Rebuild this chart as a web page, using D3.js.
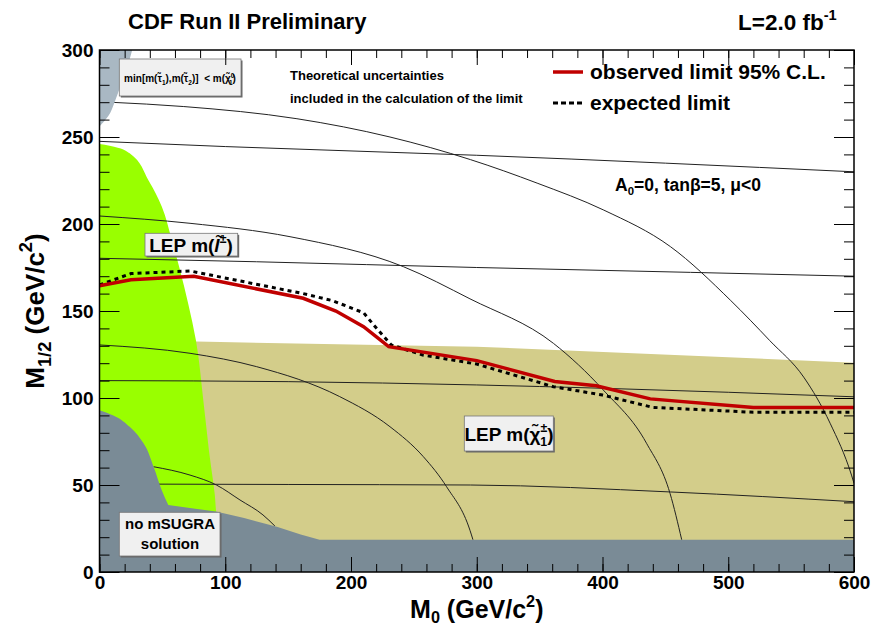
<!DOCTYPE html>
<html>
<head>
<meta charset="utf-8">
<script src="https://cdn.jsdelivr.net/npm/d3@7"></script>
<style>
  body { margin: 0; background: white; }
  text { font-family: "Liberation Sans", Arial, Helvetica, sans-serif; white-space: pre; }
</style>
</head>
<body>
<div id="vis"></div>
<script>
const SVG = d3.select("#vis").append("svg");

const WIDTH = 878;
const HEIGHT = 629;
const margins = [99.5, 24, 50, 57]; // izquierda, derecha, arriba, abajo

SVG.attr("width", WIDTH).attr("height", HEIGHT);

// Ticks
const x_major = [0, 100, 200, 300, 400, 500, 600];
const y_major = [0, 50, 100, 150, 200, 250, 300];
const x_minor = d3.range(0, 601, 20);
const y_minor = d3.range(0, 301, 10);

// Regiones excluidas (M0, M1/2): borde curvo + esquinas
const borde_lep_chargino = [[0, 133], [77, 132.4], [300, 129.5], [600, 120.3]];
const esquinas_lep_chargino = [[600, 0], [0, 0]];
const borde_lep_slepton = [[0, 246], [8, 245], [24, 240.6], [39, 225], [49.5, 210], [57.4, 191],
    [64, 173.6], [70.6, 154], [76.7, 133], [82.5, 99], [87, 70], [92.6, 35.6], [93.5, 0]];
const esquinas_lep_slepton = [[0, 0]];
const borde_stau = [[26, 300], [22, 290], [17, 280], [12, 270], [7, 262], [0, 256]];
const esquinas_stau = [[0, 300]];
const borde_no_msugra = [[0, 93], [11, 90], [24, 83.5], [35, 74], [43, 60.5], [49.5, 47], [54.7, 38.5]];
const esquinas_no_msugra = [[92.6, 34.7], [115, 31], [141, 26], [160, 21.5], [175, 18.5],
    [600, 18.5], [600, 0], [0, 0]];

// Curvas de masa constante
const curva_a = [[8, 270], [67, 267.5], [157, 260.5], [231, 250], [295, 237], [348, 223.5], [401, 208],
    [454, 187], [502, 156], [533, 133], [560, 112], [581, 85.5], [598, 55.7], [600, 51]];
const curva_b = [[0, 247.5], [100, 244.5], [300, 239.5], [600, 230]];
const curva_c = [[0, 204.6], [72, 200.4], [151.5, 192.7], [241.6, 175.5], [294.6, 157], [361, 131.4],
    [400.6, 104.6], [435, 74], [453.7, 45.2], [463, 18.5]];
const curva_d = [[0, 180.3], [125, 178.3], [300, 175], [470, 172.2], [600, 170]];
const curva_e = [[0, 130.5], [72, 125.7], [125, 118], [191, 100.8], [231, 83.5], [257.5, 66.3],
    [276, 49], [294.6, 24], [297, 18.5]];
const curva_f = [[0, 110], [150, 109.4], [300, 107.5], [400, 105.6], [600, 100.7]];
const curva_g = [[43, 60.5], [72, 55.7], [93, 50], [111.7, 41.4], [130, 32.8], [139.5, 26.4]];
const curva_h = [[46, 50.5], [150, 50.3], [295, 50], [454, 46], [600, 40.4]];
const curvas = [curva_a, curva_b, curva_c, curva_d, curva_e, curva_f, curva_g, curva_h];

// Limites
const m0_obs = [0, 25, 75, 162, 188, 210, 230, 300, 362, 395, 438, 520, 600];
const m12_obs = [164.5, 168, 170, 157.3, 150, 141, 129.5, 121.5, 109.5, 107, 99.5, 94.6, 94.6];
const m0_exp = [0, 25, 72, 162, 185, 210, 218, 232, 257, 300, 361, 400, 440, 520, 600];
const m12_exp = [165, 171.5, 173, 160, 156, 149, 142, 130.5, 124.7, 119.5, 106.5, 101.7, 94.6, 91.8, 91.8];

//Escalas
const escala_x = d3.scaleLinear().domain([0, 600]).range([margins[0], WIDTH - margins[1]]);
const escala_y = d3.scaleLinear().domain([0, 300]).range([HEIGHT - margins[3], margins[2]]);

SVG.append("defs").append("clipPath").attr("id", "area")
    .append("rect")
    .attr("x", escala_x(0)).attr("y", escala_y(300))
    .attr("width", escala_x(600) - escala_x(0))
    .attr("height", escala_y(0) - escala_y(300));

const plano = SVG.append("g").attr("clip-path", "url(#area)");

const linea = d3.line().x(d => escala_x(d[0])).y(d => escala_y(d[1]));
const curva = d3.line().x(d => escala_x(d[0])).y(d => escala_y(d[1])).curve(d3.curveMonotoneX);
const curva_vertical = d3.line().x(d => escala_x(d[0])).y(d => escala_y(d[1])).curve(d3.curveMonotoneY);

function region(borde, esquinas, color, suave) {
    const d = (suave ? curva_vertical(borde) : linea(borde)) +
        esquinas.map(p => `L${escala_x(p[0])},${escala_y(p[1])}`).join("") + "Z";
    plano.append("path").attr("d", d).attr("fill", color).attr("stroke", "none");
}

region(borde_lep_chargino, esquinas_lep_chargino, "#d3cd8a", false);
region(borde_lep_slepton, esquinas_lep_slepton, "#99ff00", true);

plano.selectAll(".contorno")
    .data(curvas)
    .join("path")
    .attr("class", "contorno")
    .attr("d", d => curva(d))
    .attr("fill", "none")
    .attr("stroke", "#222")
    .attr("stroke-width", 1);

region(borde_stau, esquinas_stau, "#a9b8c3", true);
region(borde_no_msugra, esquinas_no_msugra, "#7a8b96", true);

const obs = m0_obs.map((m, i) => [m, m12_obs[i]]);
const esp = m0_exp.map((m, i) => [m, m12_exp[i]]);

plano.append("path").attr("d", linea(esp))
    .attr("fill", "none").attr("stroke", "black")
    .attr("stroke-width", 3).attr("stroke-dasharray", "4,4");
plano.append("path").attr("d", linea(obs))
    .attr("fill", "none").attr("stroke", "#c00000")
    .attr("stroke-width", 3.5);

// Texto con subindices y superindices
function escribir(x, y, partes, size, anchor = "start", padre = SVG, escala = 0.65, bajada = 0.25) {
    const t = padre.append("text").attr("x", x).attr("y", y)
        .attr("font-size", size).attr("font-weight", "bold")
        .attr("text-anchor", anchor).attr("fill", "black");
    let shift = 0;
    partes.forEach(p => {
        const s = t.append("tspan").text(p[0]);
        let nuevo = 0;
        if (p[1] === "sub") nuevo = bajada * size;
        if (p[1] === "sup") nuevo = -0.45 * size;
        if (p[1] === "sub" || p[1] === "sup") s.attr("font-size", size * escala);
        if (p[2]) s.attr("dx", p[2]);
        if (p[1] === "it") s.attr("font-style", "italic");
        s.attr("dy", nuevo - shift);
        shift = nuevo;
    });
    return t;
}

function caja(x0, y0, x1, y1) {
    SVG.append("rect").attr("x", x0 + 1.5).attr("y", y0 + 1.5)
        .attr("width", x1 - x0).attr("height", y1 - y0).attr("fill", "#666");
    SVG.append("rect").attr("x", x0).attr("y", y0)
        .attr("width", x1 - x0).attr("height", y1 - y0)
        .attr("fill", "#f0f0f0").attr("stroke", "#777").attr("stroke-width", 0.8);
}

caja(119.3, 59, 241, 96);
escribir(180, 82, [["min[m(τ̃"], ["1", "sub"], ["),m(τ̃"], ["2", "sub"], [")]  < m(χ̃"],
    ["0", "sup"], ["1", "sub", -5.5], [")"]], 10, "middle");

caja(145, 233.3, 237.7, 256);
escribir(191, 252, [["LEP m("], ["l̃", "it"], ["±", "sup"], [")"]], 19, "middle");

caja(464.3, 416, 553.3, 451);
escribir(509, 441, [["LEP m(χ̃"], ["±", "sup"], ["1", "sub", -7], [")"]], 19, "middle");

caja(119.3, 512.3, 220, 556);
escribir(170, 529, [["no mSUGRA"]], 15, "middle");
escribir(170, 549, [["solution"]], 15, "middle");

escribir(290, 80, [["Theoretical uncertainties"]], 13);
escribir(290, 103, [["included in the calculation of the limit"]], 13);

escribir(615, 191, [["A"], ["0", "sub"], ["=0, tanβ=5, μ<0"]], 17.5);

// Leyenda
SVG.append("line").attr("x1", 553).attr("x2", 583).attr("y1", 72).attr("y2", 72)
    .attr("stroke", "#c00000").attr("stroke-width", 3.5);
SVG.append("line").attr("x1", 553).attr("x2", 583).attr("y1", 103).attr("y2", 103)
    .attr("stroke", "black").attr("stroke-width", 3).attr("stroke-dasharray", "5,3");
escribir(590, 79, [["observed limit 95% C.L."]], 21);
escribir(590, 110, [["expected limit"]], 21);

// Titulos
escribir(128, 29, [["CDF Run II Preliminary"]], 22);
escribir(738, 30, [["L=2.0 fb"], ["-1", "sup"]], 22.5);

escribir(escala_x(300), 618, [["M"], ["0", "sub"], [" (GeV/c"], ["2", "sup"], [")"]], 25, "middle", SVG, 0.65, 0.18);
escribir(0, 0, [["M"], ["1/2", "sub"], [" (GeV/c"], ["2", "sup"], [")"]], 26, "middle", SVG, 0.7)
    .attr("transform", "translate(44,311) rotate(-90)");

// Ejes (ticks hacia adentro)
const bottom = HEIGHT - margins[3];
const top_ = margins[2];
const left = margins[0];
const right = WIDTH - margins[1];

function eje(axis, tx, ty) {
    const g = SVG.append("g").attr("transform", `translate(${tx},${ty})`).call(axis);
    g.select(".domain").remove();
    g.selectAll("line").attr("stroke", "black").attr("stroke-width", 1);
    g.selectAll("text").attr("font-size", 19).attr("font-weight", "bold")
        .attr("font-family", "'Liberation Sans', Arial, sans-serif").attr("fill", "black");
    return g;
}

eje(d3.axisBottom(escala_x).tickValues(x_minor).tickSize(-8).tickFormat(""), 0, bottom);
eje(d3.axisBottom(escala_x).tickValues(x_major).tickSize(-15).tickPadding(4).tickFormat(d3.format("d")), 0, bottom);
eje(d3.axisTop(escala_x).tickValues(x_minor).tickSize(-8).tickFormat(""), 0, top_);
eje(d3.axisTop(escala_x).tickValues(x_major).tickSize(-15).tickFormat(""), 0, top_);
eje(d3.axisLeft(escala_y).tickValues(y_minor).tickSize(-10).tickFormat(""), left, 0);
eje(d3.axisLeft(escala_y).tickValues(y_major).tickSize(-20).tickPadding(6).tickFormat(d3.format("d")), left, 0);
eje(d3.axisRight(escala_y).tickValues(y_minor).tickSize(-10).tickFormat(""), right, 0);
eje(d3.axisRight(escala_y).tickValues(y_major).tickSize(-20).tickFormat(""), right, 0);

SVG.append("rect").attr("x", left).attr("y", top_)
    .attr("width", right - left).attr("height", bottom - top_)
    .attr("fill", "none").attr("stroke", "black").attr("stroke-width", 1.5);
</script>
</body>
</html>
